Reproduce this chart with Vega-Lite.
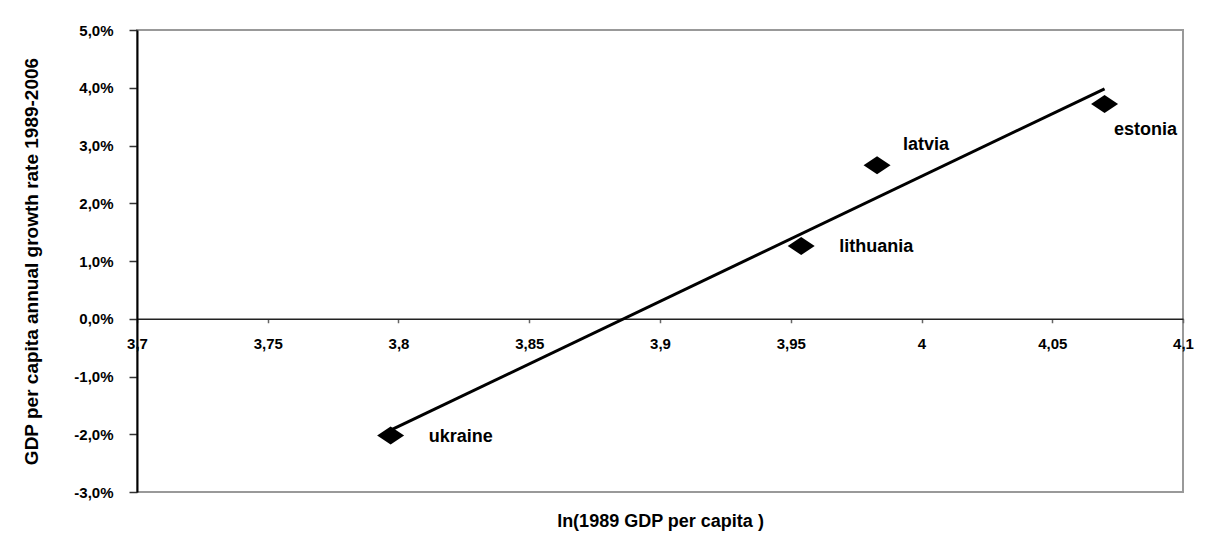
{
  "$schema": "https://vega.github.io/schema/vega-lite/v6.json",
  "width": 1046,
  "height": 462,
  "autosize": {"type": "none"},
  "padding": {"left": 137, "top": 30, "right": 28, "bottom": 41},
  "background": "white",
  "config": {
    "view": {"stroke": "#999999", "strokeWidth": 2},
    "font": "Liberation Sans"
  },
  "data": {
    "values": [
      {"country": "ukraine", "ln_gdp": 3.797, "gdp_growth": -0.0202},
      {"country": "lithuania", "ln_gdp": 3.954, "gdp_growth": 0.0126},
      {"country": "latvia", "ln_gdp": 3.983, "gdp_growth": 0.0266},
      {"country": "estonia", "ln_gdp": 4.070, "gdp_growth": 0.0372}
    ]
  },
  "encoding": {
    "x": {
      "field": "ln_gdp",
      "type": "quantitative",
      "scale": {"domain": [3.7, 4.1], "nice": false, "zero": false},
      "axis": {
        "values": [3.7, 3.75, 3.8, 3.85, 3.9, 3.95, 4.0, 4.05, 4.1],
        "labelExpr": "replace(format(datum.value, '.3~f'), '.', ',')",
        "offset": -173.25,
        "grid": false,
        "domainColor": "#222222",
        "domainWidth": 1.5,
        "tickColor": "#666666",
        "tickSize": 4,
        "tickWidth": 1.5,
        "labelFontSize": 15,
        "labelFontWeight": "bold",
        "labelColor": "black",
        "labelPadding": 14,
        "labelFlush": false,
        "labelOverlap": false,
        "title": "ln(1989 GDP per capita )",
        "titleFontSize": 18,
        "titleFontWeight": "bold",
        "titleColor": "black",
        "titleX": 523,
        "titleY": 208,
        "titleBaseline": "alphabetic"
      }
    },
    "y": {
      "field": "gdp_growth",
      "type": "quantitative",
      "scale": {"domain": [-0.03, 0.05], "nice": false, "zero": false},
      "axis": {
        "values": [-0.03, -0.02, -0.01, 0, 0.01, 0.02, 0.03, 0.04, 0.05],
        "labelExpr": "replace(replace(format(datum.value, '.1%'), '.', ','), '\u2212', '-')",
        "grid": false,
        "domainColor": "black",
        "domainWidth": 2,
        "tickColor": "#333333",
        "tickSize": 8,
        "tickWidth": 1.5,
        "labelFontSize": 15,
        "labelFontWeight": "bold",
        "labelColor": "black",
        "labelPadding": 16,
        "labelFlush": false,
        "labelOverlap": false,
        "title": "GDP per capita annual growth rate 1989-2006",
        "titleFontSize": 19,
        "titleFontWeight": "bold",
        "titleColor": "black",
        "titleAngle": 270,
        "titleX": -100,
        "titleY": 231,
        "titleBaseline": "alphabetic"
      }
    }
  },
  "layer": [
    {
      "transform": [{"regression": "gdp_growth", "on": "ln_gdp"}],
      "mark": {"type": "line", "color": "black", "strokeWidth": 3}
    },
    {
      "mark": {
        "type": "point",
        "shape": "M-1.5,0L0,-1L1.5,0L0,1Z",
        "filled": true,
        "color": "black",
        "opacity": 1,
        "size": 324,
        "strokeWidth": 0
      }
    },
    {
      "transform": [{"filter": "datum.country === 'ukraine'"}],
      "mark": {"type": "text", "align": "center", "baseline": "alphabetic", "dx": 70, "dy": 7, "fontSize": 18, "fontWeight": "bold", "color": "black"},
      "encoding": {"text": {"field": "country"}}
    },
    {
      "transform": [{"filter": "datum.country === 'lithuania'"}],
      "mark": {"type": "text", "align": "center", "baseline": "alphabetic", "dx": 75, "dy": 6, "fontSize": 18, "fontWeight": "bold", "color": "black"},
      "encoding": {"text": {"field": "country"}}
    },
    {
      "transform": [{"filter": "datum.country === 'latvia'"}],
      "mark": {"type": "text", "align": "center", "baseline": "alphabetic", "dx": 49, "dy": -15, "fontSize": 18, "fontWeight": "bold", "color": "black"},
      "encoding": {"text": {"field": "country"}}
    },
    {
      "transform": [{"filter": "datum.country === 'estonia'"}],
      "mark": {"type": "text", "align": "center", "baseline": "alphabetic", "dx": 41, "dy": 31, "fontSize": 18, "fontWeight": "bold", "color": "black"},
      "encoding": {"text": {"field": "country"}}
    }
  ]
}
